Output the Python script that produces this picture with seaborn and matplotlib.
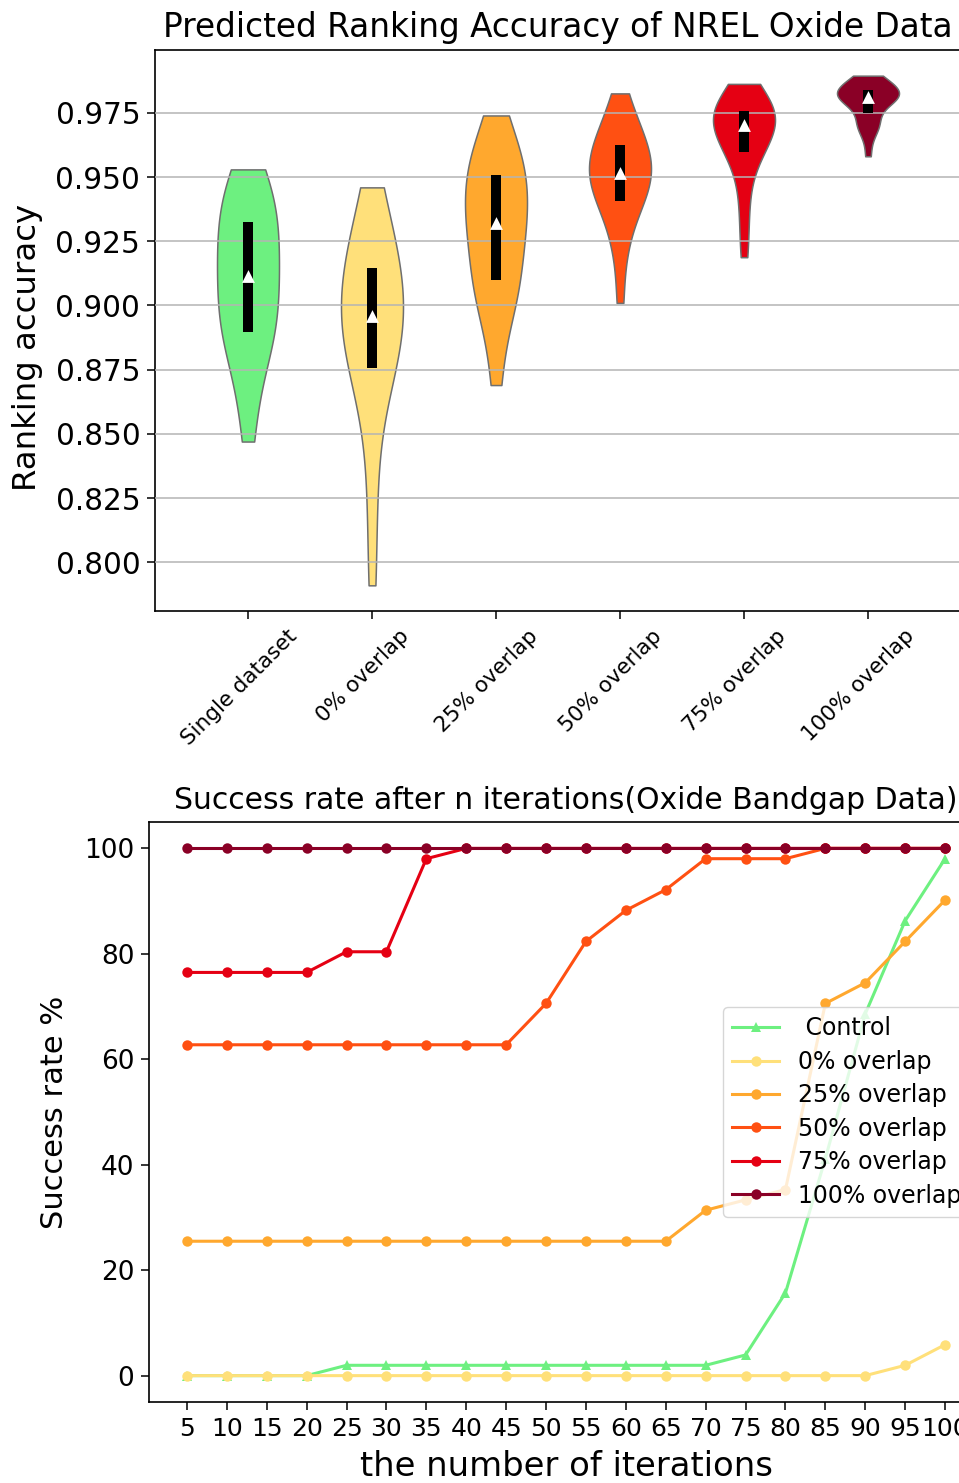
import numpy as np
import pandas as pd
import matplotlib
matplotlib.use("Agg")
import matplotlib.pyplot as plt
import matplotlib.transforms as mtransforms
import seaborn as sns

# ---------------- ranking accuracy per training setup ----------------
groups = ["Single dataset", "0% overlap", "25% overlap",
          "50% overlap", "75% overlap", "100% overlap"]

acc_single = [0.847, 0.862, 0.872, 0.880, 0.885, 0.889, 0.890, 0.894,
              0.898, 0.902, 0.906, 0.910, 0.913, 0.916, 0.920, 0.924,
              0.928, 0.932, 0.934, 0.938, 0.942, 0.946, 0.950, 0.953]
acc_overlap0 = [0.791, 0.818, 0.840, 0.858, 0.867, 0.875, 0.876, 0.880,
                0.885, 0.889, 0.892, 0.895, 0.897, 0.900, 0.903, 0.907,
                0.911, 0.914, 0.917, 0.921, 0.926, 0.932, 0.939, 0.946]
acc_overlap25 = [0.869, 0.885, 0.896, 0.901, 0.905, 0.908, 0.9105, 0.915,
                 0.920, 0.925, 0.929, 0.931, 0.933, 0.937, 0.940, 0.943,
                 0.947, 0.950, 0.9525, 0.955, 0.958, 0.962, 0.967, 0.974]
acc_overlap50 = [0.901, 0.917, 0.926, 0.932, 0.936, 0.9400, 0.9408, 0.944,
                 0.946, 0.948, 0.950, 0.951, 0.9525, 0.954, 0.956, 0.958,
                 0.960, 0.962, 0.964, 0.966, 0.969, 0.972, 0.977, 0.9826]
acc_overlap75 = [0.9188, 0.930, 0.940, 0.948, 0.955, 0.9595, 0.9600, 0.962,
                 0.964, 0.966, 0.968, 0.970, 0.9708, 0.972, 0.973, 0.974,
                 0.975, 0.9755, 0.976, 0.978, 0.980, 0.982, 0.984, 0.9863]
acc_overlap100 = [0.9581, 0.9655, 0.9695, 0.9705, 0.9712, 0.9718, 0.9762, 0.9795,
                  0.9800, 0.9805, 0.981, 0.981, 0.9815, 0.982, 0.9822, 0.9825,
                  0.983, 0.9833, 0.9857, 0.986, 0.9865, 0.987, 0.988, 0.9895]

acc_lists = [acc_single, acc_overlap0, acc_overlap25,
             acc_overlap50, acc_overlap75, acc_overlap100]

group_colors = ["#6df080", "#ffe07a", "#ffa82e", "#ff5012", "#e50013", "#8a0026"]

# ---------------- success rate after n iterations ----------------
iterations = [5, 10, 15, 20, 25, 30, 35, 40, 45, 50,
              55, 60, 65, 70, 75, 80, 85, 90, 95, 100]

rate_control = [0, 0, 0, 0, 1.96, 1.96, 1.96, 1.96, 1.96, 1.96,
                1.96, 1.96, 1.96, 1.96, 3.92, 15.69, 41.18, 68.63, 86.27, 98.04]
rate_overlap0 = [0, 0, 0, 0, 0, 0, 0, 0, 0, 0,
                 0, 0, 0, 0, 0, 0, 0, 0, 1.96, 5.88]
rate_overlap25 = [25.49, 25.49, 25.49, 25.49, 25.49, 25.49, 25.49, 25.49, 25.49, 25.49,
                  25.49, 25.49, 25.49, 31.37, 33.33, 35.29, 70.59, 74.51, 82.35, 90.20]
rate_overlap50 = [62.75, 62.75, 62.75, 62.75, 62.75, 62.75, 62.75, 62.75, 62.75, 70.59,
                  82.35, 88.24, 92.16, 98.04, 98.04, 98.04, 100, 100, 100, 100]
rate_overlap75 = [76.47, 76.47, 76.47, 76.47, 80.39, 80.39, 98.04, 100, 100, 100,
                  100, 100, 100, 100, 100, 100, 100, 100, 100, 100]
rate_overlap100 = [100] * 20

series_names = [" Control", "0% overlap", "25% overlap",
                "50% overlap", "75% overlap", "100% overlap"]
series_rates = [rate_control, rate_overlap0, rate_overlap25,
                rate_overlap50, rate_overlap75, rate_overlap100]
series_markers = ["^", "o", "o", "o", "o", "o"]

# ---------------- figure ----------------
W, H = 959, 1483
fig = plt.figure(figsize=(W / 100, H / 100), dpi=100)

plt.rcParams["axes.linewidth"] = 1.2


def style_ticks(ax):
    ax.tick_params(axis="both", which="major", length=5.6, width=1.1, pad=5,
                   color="black")
    for sp in ax.spines.values():
        sp.set_linewidth(1.2)
        sp.set_color("black")


# upper panel: violins
ax1 = fig.add_axes([155 / W, 1 - 611 / H, (961 - 155) / W, (611 - 50) / H])
df_acc = pd.DataFrame({
    "setup": np.repeat(groups, [len(a) for a in acc_lists]),
    "accuracy": np.concatenate(acc_lists),
})
sns.violinplot(data=df_acc, x="setup", y="accuracy", hue="setup",
               order=groups, hue_order=groups, palette=group_colors,
               inner=None, cut=0, density_norm="width", width=0.5,
               linewidth=1.1, linecolor="#6f6f6f", saturation=1,
               legend=False, ax=ax1)

q1 = [np.percentile(a, 25) for a in acc_lists]
q3 = [np.percentile(a, 75) for a in acc_lists]
med = [np.median(a) for a in acc_lists]
pos = np.arange(len(groups))
ax1.vlines(pos, q1, q3, color="black", lw=7.2, zorder=3, capstyle="butt")
ax1.scatter(pos, med, marker="^", color="white", s=85, linewidths=0, zorder=4)

ax1.set_xlim(-0.75, 5.75)
ax1.set_ylim(0.781, 0.9995)
ax1.set_yticks([0.800, 0.825, 0.850, 0.875, 0.900, 0.925, 0.950, 0.975])
ax1.yaxis.grid(True, color="#b4b4b4", lw=1.1)
ax1.xaxis.grid(False)
ax1.set_axisbelow(False)
ax1.set_xlabel("")
ax1.set_ylabel("Ranking accuracy", fontsize=23.3, labelpad=9, y=0.47)
ax1.set_title("Predicted Ranking Accuracy of NREL Oxide Data",
              fontsize=23.6, pad=9)
style_ticks(ax1)
ax1.tick_params(axis="y", labelsize=21.3)
ax1.tick_params(axis="x", labelsize=15.5, labelrotation=45)
ax1.spines["right"].set_visible(False)

# lower panel: success-rate curves
ax2 = fig.add_axes([149 / W, 1 - 1402 / H, (983 - 149) / W, (1402 - 822) / H])
iter_labels = [str(i) for i in iterations]
for name, rates, color, marker in zip(series_names, series_rates,
                                      group_colors, series_markers):
    sns.lineplot(x=iter_labels, y=rates, color=color, marker=marker,
                 markersize=7.5, markeredgewidth=0, markeredgecolor=color,
                 linewidth=2.2, label=name, sort=False, errorbar=None,
                 ax=ax2)

ax2.set_ylim(-5, 105)
ax2.set_yticks([0, 20, 40, 60, 80, 100])
ax2.set_xlabel("the number of iterations", fontsize=24.4, labelpad=7)
ax2.set_ylabel("Success rate %", fontsize=22, labelpad=11)
ax2.set_title("Success rate after n iterations(Oxide Bandgap Data)",
              fontsize=21.5, pad=9)
style_ticks(ax2)
ax2.tick_params(axis="y", labelsize=19)
ax2.tick_params(axis="x", labelsize=18)
ax2.legend(loc="center right", fontsize=17, labelspacing=0.4, frameon=True)

# nudge the slanted category names slightly left
shift = mtransforms.ScaledTranslation(-9 / 100, 0, fig.dpi_scale_trans)
for lbl in ax1.get_xticklabels():
    lbl.set_transform(lbl.get_transform() + shift)

fig.savefig("out.png", dpi=100)
